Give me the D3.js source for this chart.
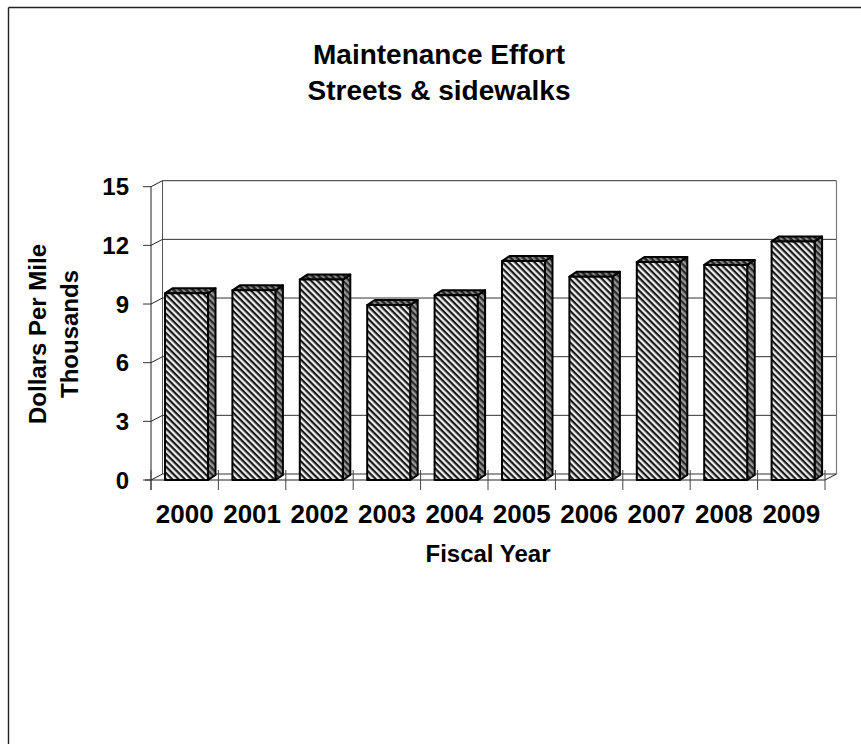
<!DOCTYPE html>
<html><head><meta charset="utf-8">
<style>html,body{margin:0;padding:0;background:#fff}svg{display:block}text{font-family:"Liberation Sans",Arial,sans-serif;font-weight:bold;fill:#000}</style>
<script src="https://cdn.jsdelivr.net/npm/d3@7/dist/d3.min.js"></script>
</head><body><script>
const years=["2000","2001","2002","2003","2004","2005","2006","2007","2008","2009"];
const values=[9.55,9.7,10.25,8.95,9.45,11.2,10.4,11.15,11.0,12.2];
const yTicks=[0,3,6,9,12,15];
const titleLines=["Maintenance Effort","Streets & sidewalks"];
const yTitleLines=["Dollars Per Mile","Thousands"];
const xTitle="Fiscal Year";

const W=861,H=744;
const svg=d3.select("body").append("svg").attr("width",W).attr("height",H);
const defs=svg.append("defs");
function stripes(id,size,bg,fg,w){
  const p=defs.append("pattern").attr("id",id).attr("patternUnits","userSpaceOnUse")
    .attr("width",size).attr("height",size).attr("patternTransform","rotate(45)");
  p.append("rect").attr("width",size).attr("height",size).attr("fill",bg);
  p.append("rect").attr("width",size).attr("height",w).attr("fill",fg);
}
stripes("front",4.5,"#eee","#1a1a1a",2.2);
stripes("side",4.5,"#999","#2a2a2a",2.2);
stripes("top",4.5,"#888","#222",2.4);

const x=d3.scaleBand().domain(years).range([151,825]).paddingInner(0).paddingOuter(0);
const y=d3.scaleLinear().domain([0,15]).range([480,186.7]);
const dx=11.5,dy=-6,bdx=7.5,bdy=-5;
const line=(a,b,c,d,col,sw)=>svg.append("line").attr("x1",a).attr("y1",b).attr("x2",c).attr("y2",d).attr("stroke",col).attr("stroke-width",sw);

// outer frame: left and top edges only
line(8.5,7.5,861,7.5,"#222",1.4);
line(8.5,7.5,8.5,744,"#222",1.4);

// back wall
const wallL=151+dx,wallR=825+dx;
svg.append("g").selectAll("line").data(yTicks).join("line")
  .attr("x1",wallL).attr("x2",wallR).attr("y1",d=>y(d)+dy).attr("y2",d=>y(d)+dy)
  .attr("stroke","#333").attr("stroke-width",1);
line(wallL,y(15)+dy,wallL,y(0)+dy,"#555",1);
line(wallR,y(15)+dy,wallR,y(0)+dy,"#777",1.2);
// floor and side-wall diagonals
line(151,y(0),wallL,y(0)+dy,"#222",1);
line(825,y(0),wallR,y(0)+dy,"#222",1);
line(151,y(15),wallL,y(15)+dy,"#222",1);
yTicks.slice(1,-1).forEach(t=>line(151,y(t),wallL,y(t)+dy,"#222",1));

// front axes
line(151,y(15),151,y(0)+10,"#222",1);
line(151-6,y(0),825,y(0),"#222",1);
svg.append("g").selectAll("line").data(yTicks).join("line")
  .attr("x1",143).attr("x2",151).attr("y1",d=>y(d)).attr("y2",d=>y(d))
  .attr("stroke","#333").attr("stroke-width",1);
const xt=[...years.map(d=>x(d)),825];
svg.append("g").selectAll("line").data(xt).join("line")
  .attr("x1",d=>d).attr("x2",d=>d).attr("y1",y(0)-10).attr("y2",y(0)+10)
  .attr("stroke","#444").attr("stroke-width",1);

// bars
const barW=43,inset=14;
const g=svg.append("g").selectAll("g").data(years.map((d,i)=>({k:d,v:values[i]}))).join("g");
g.each(function(d){
  const s=d3.select(this),l=x(d.k)+inset,r=l+barW,t=y(d.v),b=y(0);
  const style=(e,f)=>e.attr("fill",`url(#${f})`).attr("stroke","#000").attr("stroke-width",2).attr("stroke-linejoin","round");
  style(s.append("path").attr("d",`M${r},${b}L${r+bdx},${b+bdy}L${r+bdx},${t+bdy}L${r},${t}Z`),"side");
  style(s.append("path").attr("d",`M${l},${t}L${l+bdx},${t+bdy}L${r+bdx},${t+bdy}L${r},${t}Z`),"top");
  style(s.append("rect").attr("x",l).attr("y",t).attr("width",barW).attr("height",b-t),"front");
});

// text
svg.append("g").selectAll("text").data(titleLines).join("text")
  .attr("x",439).attr("y",(d,i)=>64+i*36).attr("text-anchor","middle").attr("font-size",28).text(d=>d);
svg.append("g").selectAll("text").data(yTicks).join("text")
  .attr("x",129).attr("y",d=>y(d)+8.5).attr("text-anchor","end").attr("font-size",24).text(d=>d);
svg.append("g").selectAll("text").data(years).join("text")
  .attr("x",d=>x(d)+x.bandwidth()/2).attr("y",523).attr("text-anchor","middle").attr("font-size",26).text(d=>d);
svg.append("text").attr("x",488).attr("y",562).attr("text-anchor","middle").attr("font-size",24).text(xTitle);
svg.append("g").selectAll("text").data(yTitleLines).join("text")
  .attr("transform",(d,i)=>`translate(${46+i*32},334) rotate(-90)`).attr("text-anchor","middle").attr("font-size",24).text(d=>d);
</script></body></html>
